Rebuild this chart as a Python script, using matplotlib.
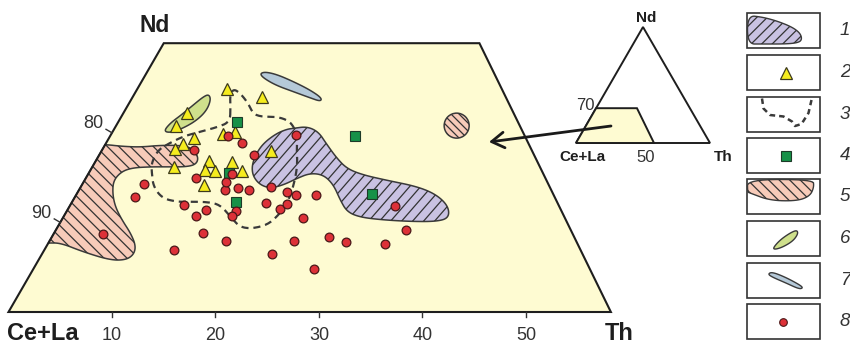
import numpy as np
import matplotlib.pyplot as plt
from matplotlib.patches import Polygon, Circle, Rectangle, FancyArrowPatch

plt.rcParams['font.family'] = ['Liberation Sans', 'DejaVu Sans']

# compositions in % : Th, Nd  (Ce+La = 100 - Th - Nd)
# 8 - red circles
red_th = [4.8, 5.8, 5.9, 12.5, 11.0, 8.9, 10.6, 12.8, 14.4, 13.4, 17.1, 14.1, 13.8,
          13.9, 15.3, 16.4, 11.4, 13.1, 15.0, 16.3, 16.2, 18.8, 18.4, 22.2, 20.5, 20.9,
          20.2, 21.2, 17.9, 23.2, 23.2, 23.6, 27.1, 26.8, 28.7, 32.6, 31.4, 33.9]
red_nd = [8.7, 12.8, 14.3, 6.9, 11.9, 18.1, 15.0, 10.7, 8.8, 11.4, 7.9, 13.6, 14.5,
          15.4, 13.8, 13.6, 19.6, 18.9, 17.5, 11.3, 10.7, 12.2, 13.9, 6.5, 11.5, 12.0,
          13.4, 13.1, 19.7, 10.5, 13.1, 7.9, 4.8, 8.4, 7.8, 7.6, 11.8, 9.1]
# 2 - yellow triangles
tri_th = [8.7, 12.5, 6.1, 5.8, 10.8, 11.8, 8.2, 7.5, 7.0, 7.9, 10.9, 11.0, 12.1, 13.2, 14.7, 11.8, 16.4]
tri_nd = [24.9, 24.0, 22.2, 20.8, 19.9, 20.1, 19.4, 18.8, 18.2, 16.2, 16.9, 15.9, 15.7, 16.7, 15.7, 14.2, 18.0]
# 4 - green squares
sq_th = [11.5, 13.6, 15.8, 23.7, 28.5]
sq_nd = [21.2, 15.5, 12.3, 19.6, 13.2]

# 1 - purple field
f1_th = [17.3, 18.5, 19.9, 21.3, 23.1, 24.7, 26.6, 29.2, 32.5, 34.8, 36.6, 37.3, 36.3, 33.8, 30.8, 28.6,
         27.1, 25.8, 24.3, 22.8, 21.4, 20.4, 19.5, 18.4, 17.2, 16.1, 15.4, 15.1, 15.2, 15.9, 16.7]
f1_nd = [20.5, 20.7, 20.1, 18.8, 17.2, 16.0, 15.3, 14.7, 14.0, 13.1, 11.8, 10.5, 10.1, 10.1, 10.3, 10.6,
         11.2, 12.5, 14.2, 15.3, 15.5, 14.9, 14.2, 13.8, 14.2, 15.1, 16.2, 17.5, 18.8, 19.9, 20.4]
# 5 - pink field (runs out past the Th = 0 side, cut back afterwards)
f5_th = [-3, 0, 1.6, 3.5, 5.3, 7.3, 8.6, 9.7, 9.9, 9.1, 7.2, 5.6, 4.0, 3.1, 2.8, 3.4, 4.4,
         5.8, 7.4, 8.6, 8.9, 8.4, 6.9, 3.9, 1.2, 0, -3]
f5_nd = [18.7, 18.7, 18.5, 18.4, 18.6, 18.6, 18.3, 17.3, 16.5, 16.2, 16.2, 16.2, 16.1, 15.7, 14.7, 13.3, 11.8,
         10.3, 8.8, 7.4, 6.4, 5.8, 5.8, 6.7, 7.7, 7.7, 7.7]
f5_spot = (32.9, 20.8)
# 6 - green field
f6_th = [4.9, 5.1, 5.7, 6.3, 6.8, 7.2, 7.7, 7.9, 7.5, 6.6, 5.6]
f6_nd = [20.2, 21.1, 22.0, 23.1, 24.0, 24.3, 23.7, 22.5, 21.4, 20.5, 20.0]
# 7 - blue field
f7_th = [11.0, 11.4, 12.7, 14.7, 16.7, 18.3, 18.4, 17.2, 15.2, 13.2, 11.6]
f7_nd = [26.6, 26.8, 26.5, 25.7, 24.8, 23.9, 23.5, 23.9, 24.6, 25.3, 26.1]
# 3 - dashed contour
f3_th = [10.8, 10.0, 9.3, 9.3, 10.2, 11.5, 12.5, 13.4, 15.0, 16.3, 17.2, 18.1, 18.8, 19.4, 19.9, 20.3, 20.6, 20.8, 20.8,
         20.6, 20.1, 18.8, 17.6, 16.3, 15.2, 14.1, 12.7, 11.4, 10.1, 8.5, 7.0, 6.1, 5.5, 5.4, 6.2, 7.1, 8.4, 9.8]
f3_nd = [21.2, 22.9, 24.2, 24.9, 24.4, 23.3, 22.2, 21.8, 21.8, 21.4, 20.7, 19.6, 18.1, 17.0, 15.9, 14.7, 13.6, 12.5, 11.6,
         10.6, 9.7, 9.3, 9.5, 10.5, 11.4, 12.1, 12.3, 12.3, 12.3, 12.7, 14.0, 15.5, 16.6, 18.1, 18.9, 19.6, 20.1, 20.6]

# plotted part of the triangle
frame_th = [0, 58.2, 30.5, 0]
frame_nd = [0, 0, 30, 30]
th_ticks = [10, 20, 30, 40, 50]
cela_ticks = [80, 90]
legend_labels = ['1', '2', '3', '4', '5', '6', '7', '8']

C_YEL = '#fefbd2'
C_PINK = '#f7cbb9'
C_PURP = '#c9c2e2'
C_GREEN = '#cfe08c'
C_BLUE = '#b5c9d8'
C_LINE = '#3a3a3a'


def tern(th, nd):
    th = np.asarray(th, float); nd = np.asarray(nd, float)
    return 8.5 + 10.35 * (th + nd / 2.), 312 - 8.96 * nd


def tern_small(th, nd):
    th = np.asarray(th, float); nd = np.asarray(nd, float)
    return 576 + 1.34 * (th + nd / 2.), 143 - 1.16 * nd


def chaikin(x, y, n=4):
    p = np.column_stack([x, y])
    for _ in range(n):
        q = np.roll(p, -1, axis=0)
        new = np.empty((2 * len(p), 2))
        new[0::2] = 0.75 * p + 0.25 * q
        new[1::2] = 0.25 * p + 0.75 * q
        p = new
    return p[:, 0], p[:, 1]


def hatch(ax, patch, x0, x1, y0, y1, step, sign, z, slope=1.0):
    h = y1 - y0
    w = h / slope
    for c in np.arange(x0 - w, x1 + w, step):
        xs = [c, c + w] if sign > 0 else [c + w, c]
        ln, = ax.plot(xs, [y0, y1], color='#333333', lw=0.9, zorder=z)
        ln.set_clip_path(patch)


def field(ax, th, nd, color, hatch_sign=0, z=2, clamp=False, step=10.5, slope=1.0):
    sth, snd = chaikin(th, nd)
    if clamp:
        sth = np.maximum(sth, 0)
    x, y = tern(sth, snd)
    pg = Polygon(np.column_stack([x, y]), closed=True, fc=color, ec=C_LINE, lw=1.1, zorder=z)
    ax.add_patch(pg)
    if hatch_sign:
        hatch(ax, pg, x.min(), x.max(), y.min(), y.max(), step, hatch_sign, z + 0.1, slope)
    return pg


fig = plt.figure(figsize=(8.5, 3.43), dpi=100)
ax = fig.add_axes([0, 0, 1, 1])
ax.set_xlim(0, 850)
ax.set_ylim(343, 0)
ax.axis('off')

# main frame
fx, fy = tern(frame_th, frame_nd)
ax.add_patch(Polygon(np.column_stack([fx, fy]), closed=True, fc=C_YEL, ec='none', zorder=1))
ax.add_patch(Polygon(np.column_stack([fx, fy]), closed=True, fc='none', ec='#1e1e1e', lw=1.5, zorder=5))

field(ax, f1_th, f1_nd, C_PURP, hatch_sign=-1, step=11, slope=1.15)
field(ax, f5_th, f5_nd, C_PINK, hatch_sign=1, clamp=True, step=11.5)
field(ax, f6_th, f6_nd, C_GREEN)
field(ax, f7_th, f7_nd, C_BLUE)

sx, sy = tern(*f5_spot)
spot = Circle((sx, sy), 12.5, fc=C_PINK, ec=C_LINE, lw=1.1, zorder=2)
ax.add_patch(spot)
hatch(ax, spot, sx - 13, sx + 13, sy - 13, sy + 13, 8, 1, 2.1)

dth, dnd = chaikin(f3_th, f3_nd, 3)
dx, dy = tern(np.r_[dth, dth[0]], np.r_[dnd, dnd[0]])
ax.plot(dx, dy, color=C_LINE, lw=1.6, ls=(0, (3.2, 2.2)), zorder=4)

# points
ax.plot(*tern(tri_th, tri_nd), ls='none', marker='^', ms=9, mfc='#f5ec1e', mec='#3d3a1c', mew=0.9, zorder=6)
ax.plot(*tern(sq_th, sq_nd), ls='none', marker='s', ms=7.3, mfc='#169148', mec='#1d3a28', mew=0.8, zorder=7)
ax.plot(*tern(red_th, red_nd), ls='none', marker='o', ms=6.3, mfc='#dd3138', mec='#4a1818', mew=0.9, zorder=8)

# ticks and labels
for t in th_ticks:
    x, y = tern(t, 0)
    ax.plot([x, x], [y, y + 5], color='#333333', lw=1, zorder=5)
    ax.text(x, y + 24, str(t), ha='center', va='center', fontsize=13, color='#333333')
for c in cela_ticks:
    x, y = tern(0, 100 - c)
    ax.plot([x, x - 6], [y, y - 3.5], color='#333333', lw=1, zorder=5)
    ax.text(x - 19, y - 9, str(c), ha='center', va='center', fontsize=13, color='#333333')

ax.text(155, 25, 'Nd', ha='center', va='center', fontsize=16.5, weight='bold', color='#1e1e1e')
ax.text(7, 333, 'Ce+La', ha='left', va='center', fontsize=17, weight='bold', color='#1e1e1e')
ax.text(605, 333, 'Th', ha='left', va='center', fontsize=17, weight='bold', color='#1e1e1e')

# small index triangle
ix, iy = tern_small([0, 100, 0], [0, 0, 100])
ax.add_patch(Polygon(np.column_stack([ix, iy]), closed=True, fc='white', ec='#1e1e1e', lw=1.4, zorder=1))
ix, iy = tern_small(frame_th, frame_nd)
ax.add_patch(Polygon(np.column_stack([ix, iy]), closed=True, fc=C_YEL, ec='#1e1e1e', lw=1.4, zorder=2))
ax.text(646, 18, 'Nd', ha='center', va='center', fontsize=11, weight='bold', color='#1e1e1e')
ax.text(585, 106, '70', ha='center', va='center', fontsize=12, color='#333333')
ax.text(582, 157, 'Ce+La', ha='center', va='center', fontsize=11, weight='bold', color='#1e1e1e')
ax.text(646, 157, '50', ha='center', va='center', fontsize=12, color='#333333')
ax.text(723, 157, 'Th', ha='center', va='center', fontsize=11, weight='bold', color='#1e1e1e')
ax.add_patch(FancyArrowPatch((611, 126), (489, 142), arrowstyle='->,head_length=0.45,head_width=0.28',
                             mutation_scale=20, lw=2, color='#1a1a1a', zorder=9, shrinkA=0, shrinkB=0))

# legend
bx, bw, bh = 747, 73, 35
tops = [13, 55, 97, 138, 179, 221, 263, 304]
for top, lab in zip(tops, legend_labels):
    ax.add_patch(Rectangle((bx, top), bw, bh, fc='white', ec='#333333', lw=1.2, zorder=3))
    ax.text(845, top + bh / 2, lab, ha='center', va='center', fontsize=13.5, style='italic', color='#333333')

def leg_shape(top, pts, color, sign=0):
    px = bx + np.array([p[0] for p in pts], float)
    py = top + np.array([p[1] for p in pts], float)
    px, py = chaikin(px, py, 3)
    pg = Polygon(np.column_stack([px, py]), closed=True, fc=color, ec=C_LINE, lw=1, zorder=4)
    ax.add_patch(pg)
    if sign:
        hatch(ax, pg, px.min(), px.max(), py.min(), py.max(), 10.5, sign, 4.1)

leg_shape(tops[0], [(0.5, 2.5), (15, 4), (30, 8), (45, 14), (53, 20), (55, 26), (52, 29.5), (40, 31),
                    (15, 31), (0.5, 31)], C_PURP, -1)
leg_shape(tops[4], [(0.5, 0.5), (66, 0.5), (67, 8), (63, 17), (50, 22), (23, 21.5), (3, 14), (0.5, 13)], C_PINK, 1)
leg_shape(tops[5], [(26, 27), (33, 19), (43, 12), (50, 9), (51, 13), (46, 20), (36, 26), (28, 28.5)], C_GREEN)
leg_shape(tops[6], [(21, 11), (25, 9), (38, 14), (53, 22), (56, 25), (52, 26), (39, 20), (25, 14)], C_BLUE)

ax.plot(786, tops[1] + 17.5, marker='^', ms=9, mfc='#f5ec1e', mec='#3d3a1c', mew=0.9, zorder=5)
ax.plot(786, tops[3] + 17.5, marker='s', ms=7.3, mfc='#169148', mec='#1d3a28', mew=0.8, zorder=5)
ax.plot(783, tops[7] + 17.5, marker='o', ms=5.5, mfc='#dd3138', mec='#4a1818', mew=0.8, zorder=5)
lx = bx + np.array([15, 16.5, 23, 36.5, 45, 48, 54.5, 61.5, 64.5])
ly = tops[2] + np.array([1.5, 11.5, 18, 19.5, 24.5, 29, 27, 16, 3])
ax.plot(lx, ly, color=C_LINE, lw=1.8, ls=(0, (2.2, 1.6)), zorder=5)

plt.savefig('out.png', dpi=100)
